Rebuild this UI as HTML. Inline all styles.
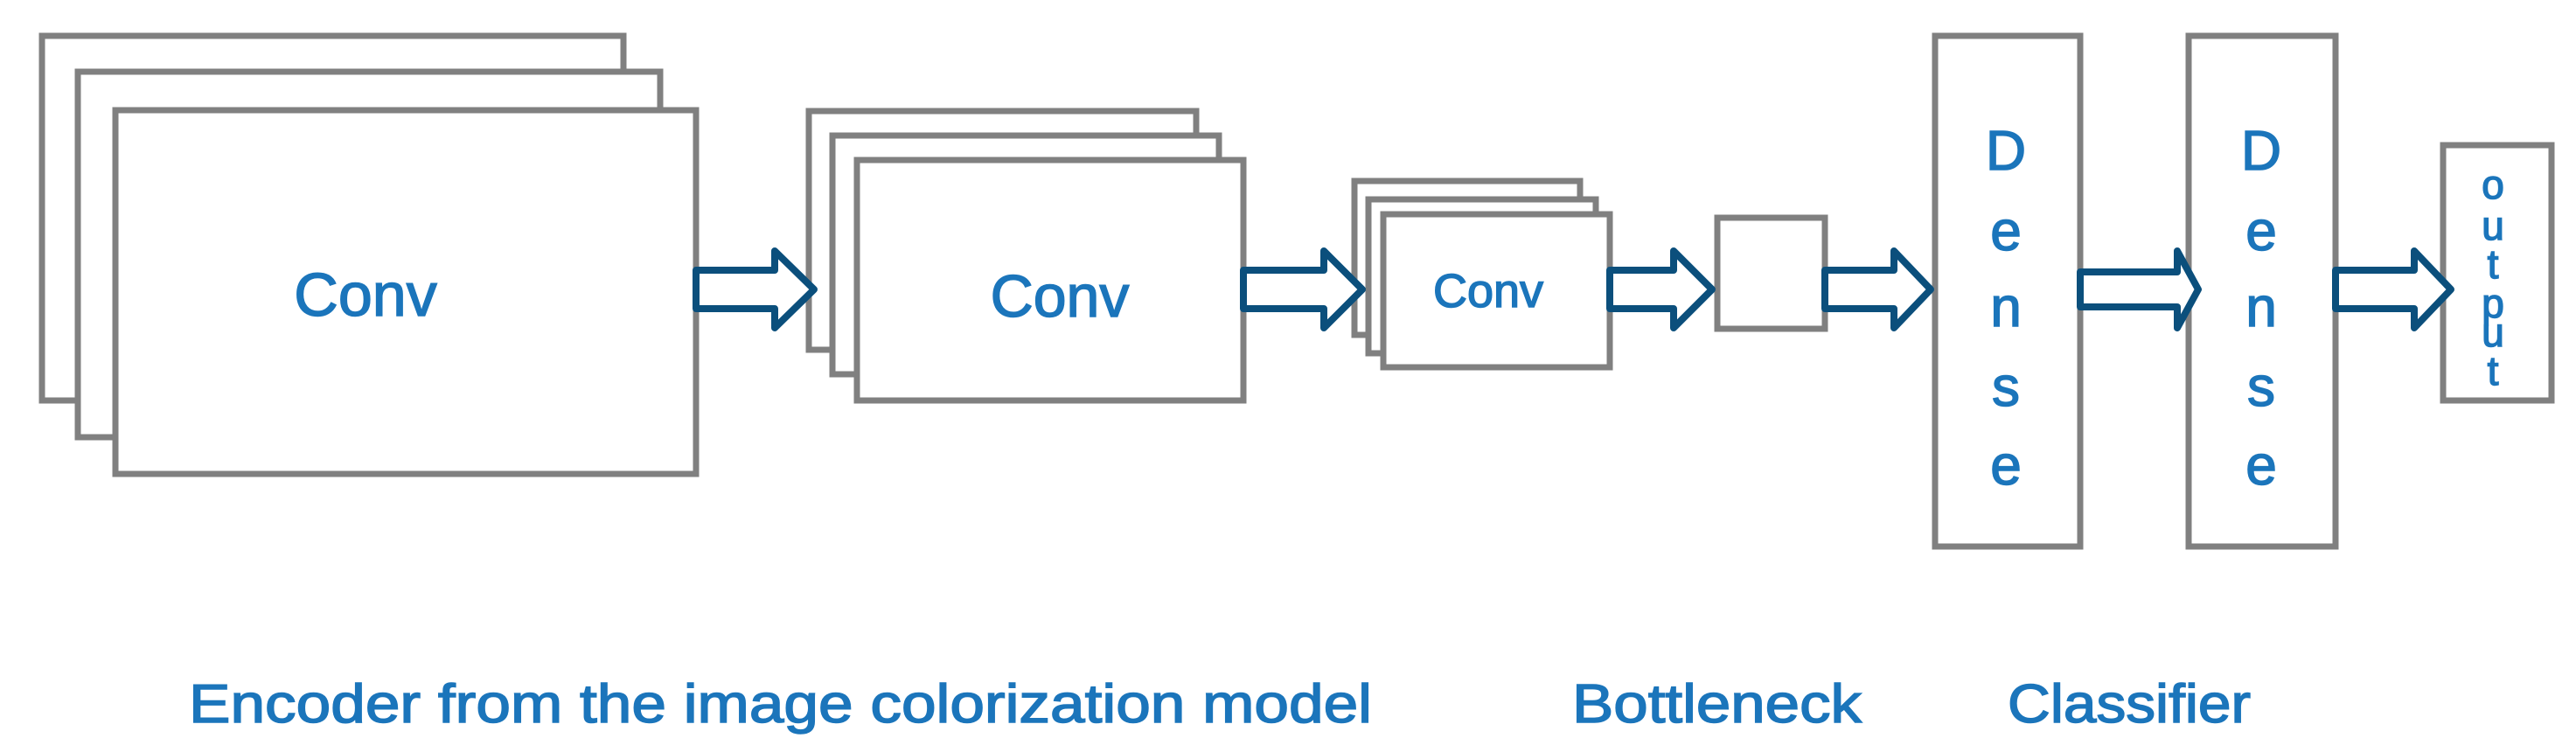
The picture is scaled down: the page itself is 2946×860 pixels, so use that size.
<!DOCTYPE html>
<html><head><style>html,body{margin:0;padding:0;background:#fff}svg{display:block}</style></head>
<body>
<svg width="2946" height="860" viewBox="0 0 2946 860" xmlns="http://www.w3.org/2000/svg" font-family="Liberation Sans, sans-serif">
<g fill="#fff" stroke="#808080" stroke-width="7">
<rect x="48" y="41" width="665" height="417"/>
<rect x="89" y="82" width="666" height="418"/>
<rect x="132" y="126" width="664" height="416"/>
<rect x="925" y="127" width="443" height="273"/>
<rect x="952" y="155" width="442" height="273"/>
<rect x="980" y="183" width="442" height="275"/>
<rect x="1549" y="207" width="258" height="176"/>
<rect x="1565" y="228" width="260" height="176"/>
<rect x="1582" y="245" width="259" height="175"/>
<rect x="1964" y="249" width="123" height="127"/>
<rect x="2213" y="41" width="166" height="584"/>
<rect x="2503" y="41" width="168" height="584"/>
<rect x="2794" y="166" width="124" height="292"/>
</g>
<g fill="#1b75bb" stroke="#1b75bb" stroke-width="1.5" text-anchor="middle">
<text x="418" y="361" font-size="70">Conv</text>
<text x="1212" y="362" font-size="68">Conv</text>
<text x="1702" y="351" font-size="54">Conv</text>
<g font-size="64">
<text x="2294" y="194">D</text><text x="2294" y="286">e</text><text x="2294" y="373">n</text><text x="2294" y="464">s</text><text x="2294" y="554">e</text>
<text x="2586" y="194">D</text><text x="2586" y="286">e</text><text x="2586" y="373">n</text><text x="2586" y="464">s</text><text x="2586" y="554">e</text>
</g>
<g font-size="46">
<text x="2851" y="227">o</text><text x="2851" y="274">u</text><text x="2851" y="318">t</text><text x="2851" y="363">p</text><text x="2851" y="396">u</text><text x="2851" y="440">t</text>
</g>
</g>
<g fill="#1b75bb" stroke="#1b75bb" stroke-width="1.5" font-size="62">
<text x="216" y="826" textLength="1353" lengthAdjust="spacingAndGlyphs">Encoder from the image colorization model</text>
<text x="1798" y="826" textLength="331" lengthAdjust="spacingAndGlyphs">Bottleneck</text>
<text x="2296" y="826" textLength="278" lengthAdjust="spacingAndGlyphs">Classifier</text>
</g>
<g fill="#fff" stroke="#0b4f7c" stroke-width="8" stroke-linejoin="round">
<path d="M796 309 H886 V287 L931 331 L886 375 V353 H796 Z"/>
<path d="M1422 309 H1514 V287 L1558 331 L1514 375 V353 H1422 Z"/>
<path d="M1841 309 H1914 V287 L1958 331 L1914 375 V353 H1841 Z"/>
<path d="M2087 309 H2166 V287 L2208 331 L2166 375 V353 H2087 Z"/>
<path d="M2379 311 H2490 V287 L2514 331 L2490 375 V351 H2379 Z"/>
<path d="M2671 309 H2761 V287 L2803 331 L2761 375 V353 H2671 Z"/>
</g>
</svg>
</body></html>
